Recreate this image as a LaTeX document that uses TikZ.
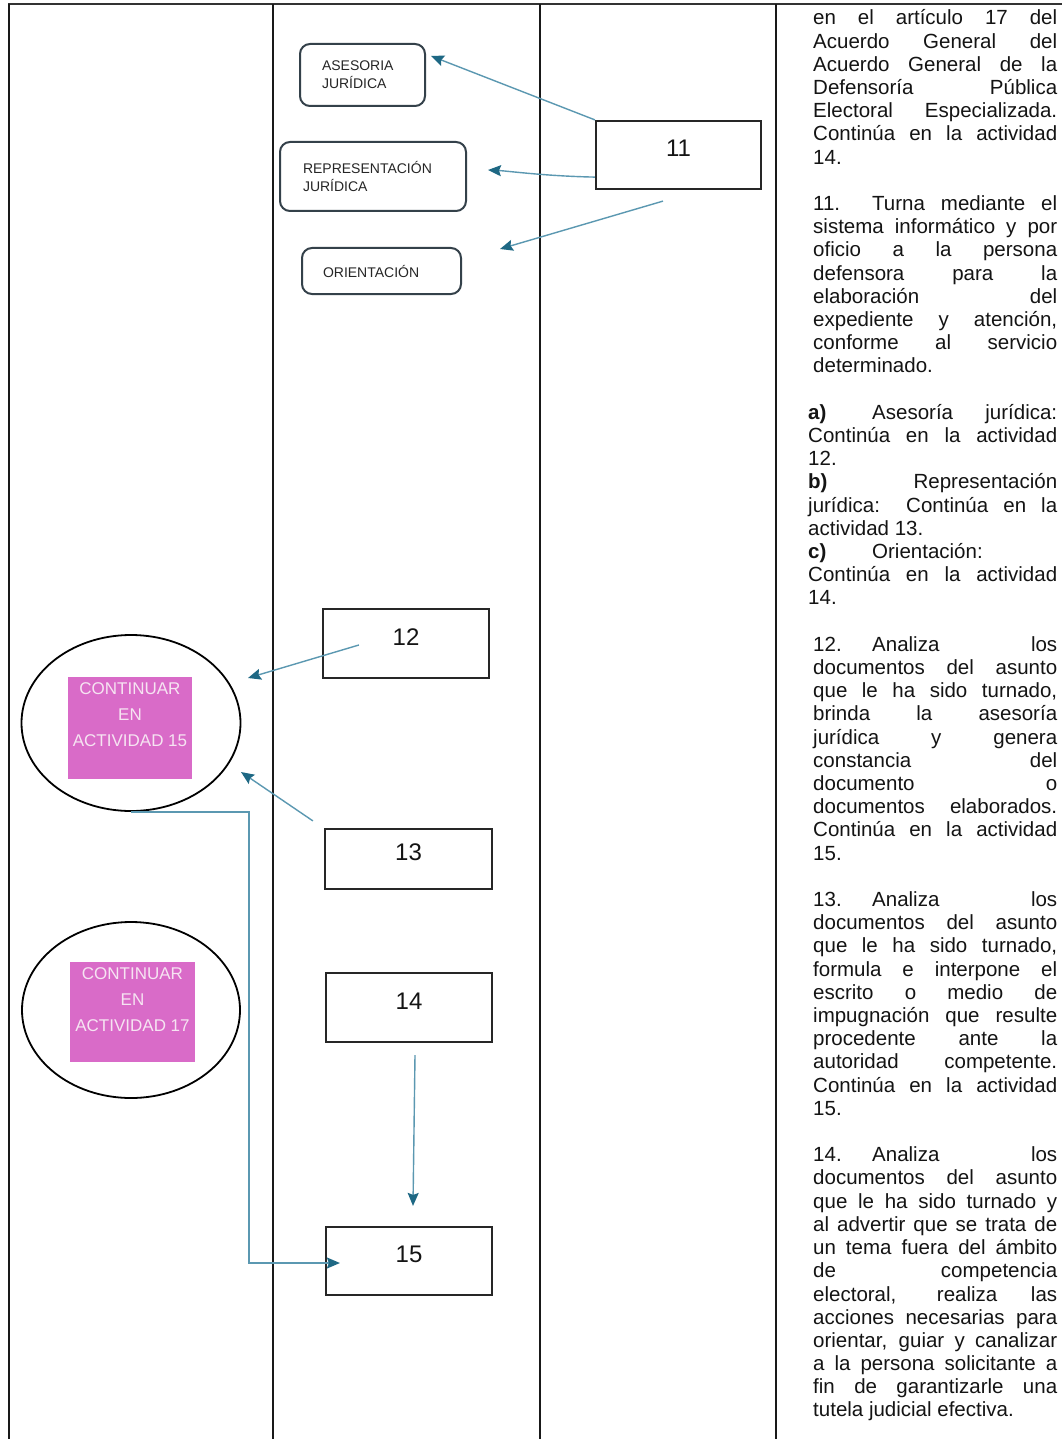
\documentclass[tikz,border=0pt]{standalone}
\usepackage{fontspec}
\setmainfont{Liberation Sans}
\usetikzlibrary{arrows.meta,calc,shapes.geometric}
\definecolor{arrline}{HTML}{5B98B1}
\definecolor{arrhead}{HTML}{1E6884}
\definecolor{pinkbox}{HTML}{D96BC8}
\definecolor{pinktext}{HTML}{F6E4F2}
\definecolor{rbord}{HTML}{34414A}
\definecolor{txtc}{HTML}{141414}
\newcommand\Jx[1]{\hbox to 249pt{\hskip5pt\spaceskip=.28em plus 1fil\relax #1}}
\newcommand\Jy[1]{\hbox to 249pt{\spaceskip=.28em plus 1fil\relax #1}}
\newcommand\Lx[1]{\hbox{\hskip5pt #1}}
\newcommand\Ly[1]{\hbox{#1}}
\newcommand\Bk{\hbox{}}
\newcommand\Pl[1]{\hbox to 124pt{\hfil #1\hfil}}
\begin{document}
\begin{tikzpicture}[x=1pt,y=-1pt,
  grid/.style={line width=2pt, black!90},
  numbox/.style={draw=black!85, line width=2.2pt, rectangle, inner sep=0pt,
    font=\fontsize{24}{24}\selectfont, text=txtc, text height=17pt, text depth=14pt},
  optbox/.style={draw=rbord, line width=2pt, rounded corners=10pt, align=left,
    inner ysep=0pt, font=\fontsize{14}{18}\selectfont, text=black!85},
  endell/.style={draw=black, line width=1.8pt, ellipse, inner sep=0pt},
  pinkrect/.style={fill=pinkbox, inner sep=0pt},
  pinklbl/.style={inner sep=0pt, anchor=base, text=pinktext, font=\fontsize{17}{26}\selectfont},
  arr/.style={draw=arrline, line width=1.4pt, -{Stealth[length=13pt,width=11pt,inset=2pt,color=arrhead]}}
]
\useasboundingbox (0,0) rectangle (1062,1439);
\fill[white] (0,0) rectangle (1062,1439);

% table grid
\draw[grid, line width=2.5pt, black!80] (8,4) -- (1062,4);
\draw[grid] (9,4) -- (9,1439);
\draw[grid] (273,4) -- (273,1439);
\draw[grid] (540,4) -- (540,1439);
\draw[grid] (776,4) -- (776,1439);

% option boxes
\node[optbox, minimum height=62pt, text width=81pt, inner xsep=22pt] (ase) at (362.5,75) {ASESORIA\\JURÍDICA};
\node[optbox, minimum height=69pt, text width=140pt, inner xsep=23pt] (rep) at (373,176.5) {REPRESENTACIÓN\\JURÍDICA};
\node[optbox, minimum height=46pt, text width=117pt, inner xsep=21pt] (ori) at (381.5,271) {ORIENTACIÓN};

% activity boxes
\node[numbox, minimum width=165pt, minimum height=68pt] (b11) at (678.5,155) {11};
\node[numbox, minimum width=166pt, minimum height=69pt] (b12) at (406,643.5) {12};
\node[numbox, minimum width=167pt, minimum height=60pt] (b13) at (408.5,859) {13};
\node[numbox, minimum width=166pt, minimum height=69pt] (b14) at (409,1007.5) {14};
\node[numbox, minimum width=166pt, minimum height=68pt] (b15) at (409,1261) {15};

% end connectors
\node[endell, minimum width=219pt, minimum height=176pt] (e1) at (131,723) {};
\node[pinkrect, minimum width=124pt, minimum height=102pt] (p1) at (130,728) {};
\node[pinklbl] (l1) at (130,694) {\vtop{\baselineskip=26pt\lineskiplimit=-50pt\Pl{CONTINUAR}\Pl{EN}\Pl{ACTIVIDAD 15}}};
\node[endell, minimum width=218pt, minimum height=176pt] (e2) at (131,1010) {};
\node[pinkrect, minimum width=125pt, minimum height=100pt] (p2) at (132.5,1012) {};
\node[pinklbl] (l2) at (132.5,979) {\vtop{\baselineskip=26pt\lineskiplimit=-50pt\Pl{CONTINUAR}\Pl{EN}\Pl{ACTIVIDAD 17}}};

% arrow end points
\coordinate (t1) at ($(ase.north east)+(5,13)$);
\coordinate (s2) at ($(b11.south west)+(0,-13)$);
\coordinate (t2) at ($(rep.east)+(21,-6.5)$);
\coordinate (s3) at ($(b11.south)+(-15.5,11)$);
\coordinate (t3) at ($(ori.north east)+(38,2)$);
\coordinate (s4) at ($(b12.west)+(37,1.5)$);
\coordinate (t4) at ($(e1.center)+(117,-45)$);
\coordinate (s5) at ($(b13.north west)+(-11,-7)$);
\coordinate (t5) at ($(e1.center)+(110,49)$);
\coordinate (s6) at ($(b14.south)+(6,12)$);
\coordinate (t6) at ($(b15.north)+(4,-20)$);
\coordinate (k15) at ($(b15.west)+(15,2)$);

\draw[arr] (b11.north west) -- (t1);
\draw[arr] (s2) .. controls ($(s2)+(-50,-1)$) and ($(t2)+(20,1)$) .. (t2);
\draw[arr] (s3) -- (t3);
\draw[arr] (s4) -- (t4);
\draw[arr] (s5) -- (t5);
\draw[arr] (s6) -- (t6);
\draw[arr] (e1.south) -- ++(118,0) |- (k15);

% description column
\node[anchor=base west, inner sep=0pt, text=txtc, font=\fontsize{20.5}{23.2}\selectfont] (desc) at (808,25) {\vtop{\baselineskip=23.2pt\lineskiplimit=-50pt
\Jx{en el artículo 17 del}
\Jx{Acuerdo General del}
\Jx{Acuerdo General de la}
\Jx{Defensoría Pública}
\Jx{Electoral Especializada.}
\Jx{Continúa en la actividad}
\Lx{14.}
\Bk
\Jx{\makebox[59pt][l]{11.}Turna mediante el}
\Jx{sistema informático y por}
\Jx{oficio a la persona}
\Jx{defensora para la}
\Jx{elaboración del}
\Jx{expediente y atención,}
\Jx{conforme al servicio}
\Lx{determinado.}
\Bk
\Jy{\makebox[64pt][l]{\bfseries a)}Asesoría jurídica:}
\Jy{Continúa en la actividad}
\Ly{12.}
\Jy{{\bfseries b)}\hfill Representación}
\Jy{jurídica: Continúa en la}
\Ly{actividad 13.}
\Ly{\makebox[64pt][l]{\bfseries c)}Orientación:}
\Jy{Continúa en la actividad}
\Ly{14.}
\Bk
\Jx{\makebox[59pt][l]{12.}Analiza los}
\Jx{documentos del asunto}
\Jx{que le ha sido turnado,}
\Jx{brinda la asesoría}
\Jx{jurídica y genera}
\Jx{constancia del}
\Jx{documento o}
\Jx{documentos elaborados.}
\Jx{Continúa en la actividad}
\Lx{15.}
\Bk
\Jx{\makebox[59pt][l]{13.}Analiza los}
\Jx{documentos del asunto}
\Jx{que le ha sido turnado,}
\Jx{formula e interpone el}
\Jx{escrito o medio de}
\Jx{impugnación que resulte}
\Jx{procedente ante la}
\Jx{autoridad competente.}
\Jx{Continúa en la actividad}
\Lx{15.}
\Bk
\Jx{\makebox[59pt][l]{14.}Analiza los}
\Jx{documentos del asunto}
\Jx{que le ha sido turnado y}
\Jx{al advertir que se trata de}
\Jx{un tema fuera del ámbito}
\Jx{de competencia}
\Jx{electoral, realiza las}
\Jx{acciones necesarias para}
\Jx{orientar, guiar y canalizar}
\Jx{a la persona solicitante a}
\Jx{fin de garantizarle una}
\Lx{tutela judicial efectiva.}
}};
\end{tikzpicture}
\end{document}
